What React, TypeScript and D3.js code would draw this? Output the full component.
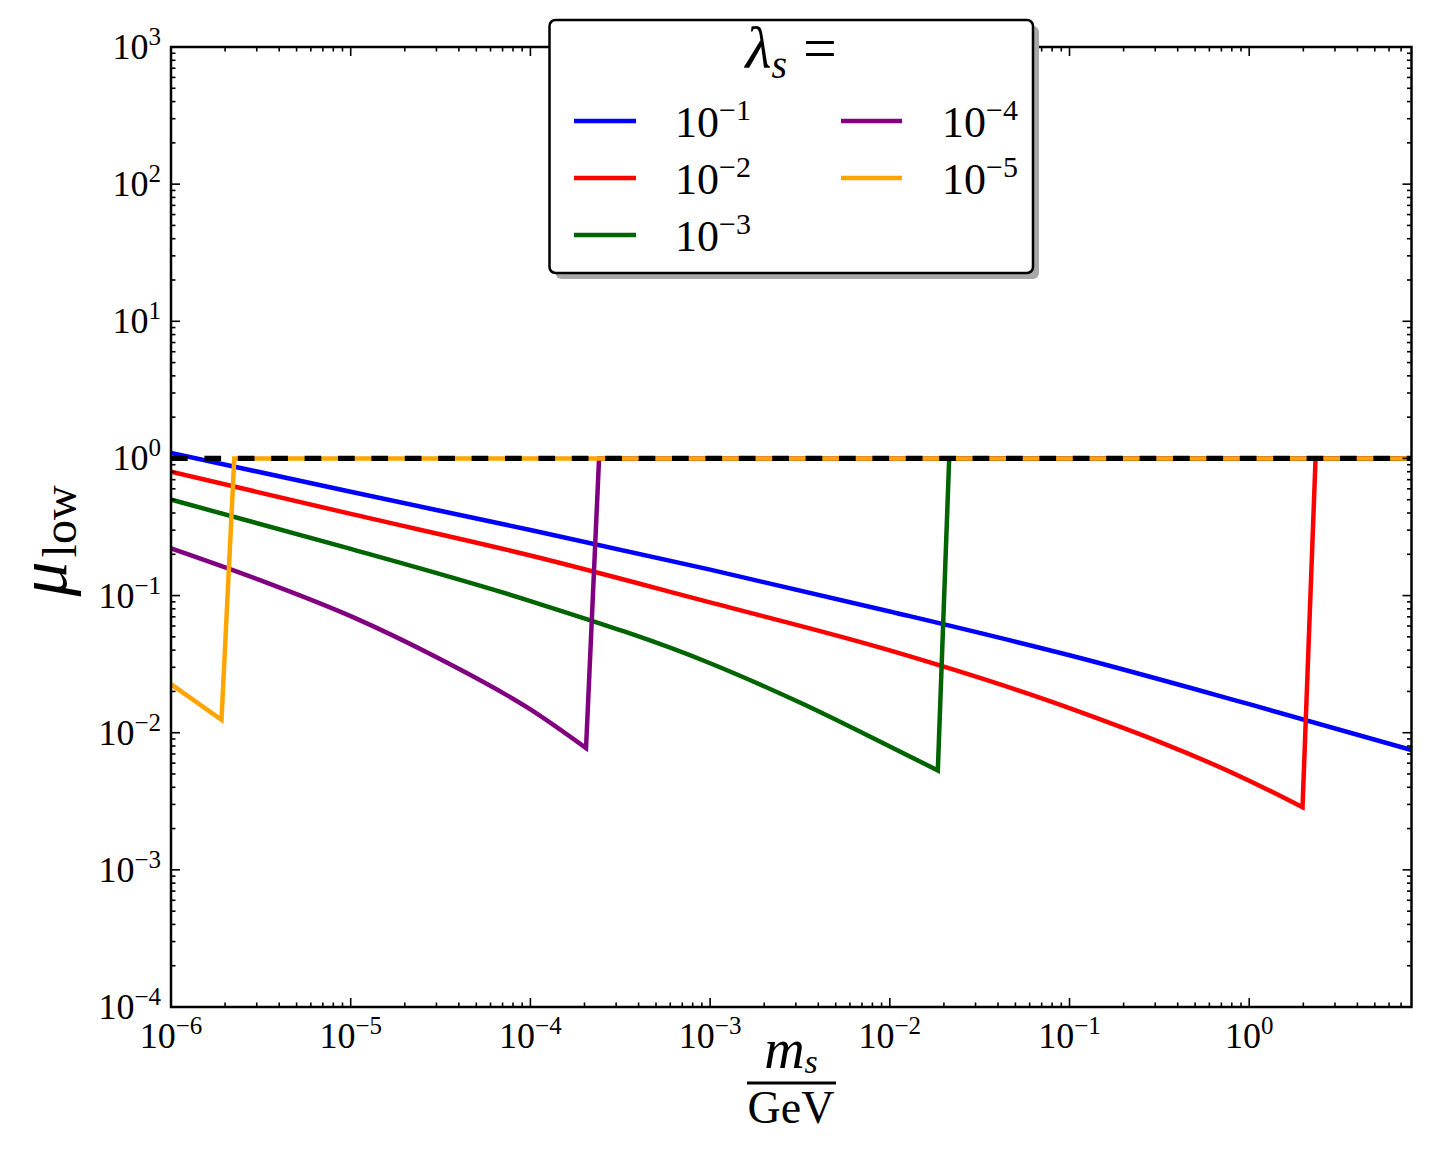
import * as d3 from 'd3';

// lambda_s = 1e-1 ... 1e-5, mass in GeV, mu_low
const massBlue = [1e-6, 1e-5, 1e-4, 1e-3, 1e-2, 1e-1, 1, 8];
const muBlue = [1.096, 0.571, 0.301, 0.1545, 0.0766, 0.0367, 0.01614, 0.00748];

const massRed = [1e-6, 1e-5, 1e-4, 1e-3, 1e-2, 1e-1, 1, 1.98, 2.34, 8];
const muRed = [0.8, 0.394, 0.196, 0.0891, 0.0398, 0.0151, 0.00447, 0.00286, 1, 1];

const massGreen = [1e-6, 1e-5, 1e-4, 1e-3, 3.16e-3, 1e-2, 0.0185, 0.0214, 8];
const muGreen = [0.501, 0.219, 0.0912, 0.0321, 0.0166, 0.00794, 0.00531, 1, 1];

const massPurple = [1e-6, 3.16e-6, 1e-5, 3.16e-5, 1e-4, 2.04e-4, 2.41e-4, 8];
const muPurple = [0.221, 0.129, 0.0708, 0.0343, 0.01479, 0.00773, 1, 1];

const massOrange = [1e-6, 1.91e-6, 2.25e-6, 8];
const muOrange = [0.0226, 0.0124, 1, 1];

const massRef = [1e-6, 8];
const muRef = [1, 1];

const lambdaExps = ['1', '2', '3', '4', '5'];
const seriesColors = ['#0000ff', '#ff0000', '#006400', '#800080', '#ffa500'];

const xExps = [-6, -5, -4, -3, -2, -1, 0];
const yExps = [-4, -3, -2, -1, 0, 1, 2, 3];

const W = 1432;
const H = 1158;
const margin = { left: 171, top: 47, right: 20.5, bottom: 151 };
const FONT = '"Liberation Serif", "DejaVu Serif", serif';

const series = [
  { m: massBlue, mu: muBlue },
  { m: massRed, mu: muRed },
  { m: massGreen, mu: muGreen },
  { m: massPurple, mu: muPurple },
  { m: massOrange, mu: muOrange },
];

const minus = (e: number) => (e < 0 ? '\u2212' + Math.abs(e) : String(e));

export default function App() {
  const x0 = margin.left;
  const x1 = W - margin.right;
  const y0 = margin.top;
  const y1 = H - margin.bottom;

  const x = d3.scaleLog().domain([1e-6, 8]).range([x0, x1]);
  const y = d3.scaleLog().domain([1e-4, 1e3]).range([y1, y0]);

  const smooth = d3
    .line<[number, number]>()
    .x((d) => x(d[0]))
    .y((d) => y(d[1]))
    .curve(d3.curveMonotoneX);
  const straight = d3
    .line<[number, number]>()
    .x((d) => x(d[0]))
    .y((d) => y(d[1]));

  const pairs = (m: number[], mu: number[]) => m.map((v, i) => [v, mu[i]] as [number, number]);

  // smooth descending branch, straight jump up to 1 and flat tail
  const seriesPath = (m: number[], mu: number[]) => {
    const pts = pairs(m, mu);
    let iMin = pts.findIndex((p, i) => i > 0 && p[1] > pts[i - 1][1]) - 1;
    if (iMin < 0) iMin = pts.length - 1;
    const head = smooth(pts.slice(0, iMin + 1)) || '';
    const tail = pts
      .slice(iMin + 1)
      .map((p) => `L${x(p[0])},${y(p[1])}`)
      .join('');
    return head + tail;
  };

  const xMinor: number[] = [];
  xExps.forEach((e) => {
    for (let k = 2; k <= 9; k++) {
      const v = k * Math.pow(10, e);
      if (v < 7.99) xMinor.push(v);
    }
  });
  const yMinor: number[] = [];
  yExps.slice(0, -1).forEach((e) => {
    for (let k = 2; k <= 9; k++) yMinor.push(k * Math.pow(10, e));
  });

  const major = 9;
  const minor = 4.5;
  const tickW = 1.6;

  // legend geometry
  const lg = { x: 549.5, y: 20, w: 483.5, h: 253 };
  const rows = [121, 178, 235];
  const cols = [
    { lx0: 574, lx1: 636, tx: 675 },
    { lx0: 841, lx1: 902, tx: 942 },
  ];

  return (
    <svg
      width={W}
      height={H}
      style={{ position: 'absolute', left: 0, top: 0, background: '#fff' }}
      fontFamily={FONT}
    >
      <defs>
        <clipPath id="plot-clip">
          <rect x={x0} y={y0} width={x1 - x0} height={y1 - y0} />
        </clipPath>
      </defs>

      <g clipPath="url(#plot-clip)">
        {series.map((s, i) => (
          <path
            key={i}
            d={seriesPath(s.m, s.mu)}
            fill="none"
            stroke={seriesColors[i]}
            strokeWidth={4.5}
          />
        ))}
        <path
          d={straight(pairs(massRef, muRef)) || ''}
          fill="none"
          stroke="#000"
          strokeWidth={5.2}
          strokeDasharray="16.7 16.7"
        />
      </g>

      {/* ticks */}
      <g stroke="#000" strokeWidth={tickW}>
        {xExps.map((e) => {
          const px = x(Math.pow(10, e));
          return (
            <g key={'xM' + e}>
              <line x1={px} x2={px} y1={y1} y2={y1 - major} />
              <line x1={px} x2={px} y1={y0} y2={y0 + major} />
            </g>
          );
        })}
        {xMinor.map((v, i) => {
          const px = x(v);
          return (
            <g key={'xm' + i}>
              <line x1={px} x2={px} y1={y1} y2={y1 - minor} />
              <line x1={px} x2={px} y1={y0} y2={y0 + minor} />
            </g>
          );
        })}
        {yExps.map((e) => {
          const py = y(Math.pow(10, e));
          return (
            <g key={'yM' + e}>
              <line x1={x0} x2={x0 + major} y1={py} y2={py} />
              <line x1={x1} x2={x1 - major} y1={py} y2={py} />
            </g>
          );
        })}
        {yMinor.map((v, i) => {
          const py = y(v);
          return (
            <g key={'ym' + i}>
              <line x1={x0} x2={x0 + minor} y1={py} y2={py} />
              <line x1={x1} x2={x1 - minor} y1={py} y2={py} />
            </g>
          );
        })}
      </g>

      <rect x={x0} y={y0} width={x1 - x0} height={y1 - y0} fill="none" stroke="#000" strokeWidth={2.5} />

      {/* tick labels */}
      {xExps.map((e) => (
        <text key={'xl' + e} x={x(Math.pow(10, e))} y={y1 + 41} textAnchor="middle" fontSize={36} fill="#000">
          10
          <tspan fontSize={25} dy={-14}>
            {minus(e)}
          </tspan>
        </text>
      ))}
      {yExps.map((e) => (
        <text key={'yl' + e} x={x0 - 10} y={y(Math.pow(10, e)) + 12} textAnchor="end" fontSize={36} fill="#000">
          10
          <tspan fontSize={25} dy={-14}>
            {minus(e)}
          </tspan>
        </text>
      ))}

      {/* axis labels */}
      <text transform={`translate(66,541) rotate(-90)`} textAnchor="middle" fill="#000">
        <tspan fontSize={70} fontStyle="italic">
          μ
        </tspan>
        <tspan fontSize={48} dy={10} dx={4}>
          low
        </tspan>
      </text>

      <text x={791} y={1068} textAnchor="middle" fill="#000">
        <tspan fontSize={56} fontStyle="italic">
          m
        </tspan>
        <tspan fontSize={34} fontStyle="italic" dy={5}>
          s
        </tspan>
      </text>
      <line x1={747} x2={836} y1={1083} y2={1083} stroke="#000" strokeWidth={3} />
      <text x={791} y={1123} textAnchor="middle" fontSize={46} fill="#000">
        GeV
      </text>

      {/* legend */}
      <rect x={lg.x + 6} y={lg.y + 6} width={lg.w} height={lg.h} rx={6} fill="#a8a8a8" />
      <rect x={lg.x} y={lg.y} width={lg.w} height={lg.h} rx={6} fill="#fff" stroke="#000" strokeWidth={2.5} />
      <text x={lg.x + lg.w / 2} y={68} textAnchor="middle" fill="#000">
        <tspan fontSize={60} fontStyle="italic">
          λ
        </tspan>
        <tspan fontSize={40} fontStyle="italic" dy={10}>
          s
        </tspan>
        <tspan fontSize={60} dy={-10} dx={16}>
          =
        </tspan>
      </text>
      {lambdaExps.map((ex, i) => {
        const c = cols[i < 3 ? 0 : 1];
        const ry = rows[i < 3 ? i : i - 3];
        return (
          <g key={'lg' + i}>
            <line x1={c.lx0} x2={c.lx1} y1={ry} y2={ry} stroke={seriesColors[i]} strokeWidth={4.5} />
            <text x={c.tx} y={ry + 16} fontSize={44} fill="#000">
              10
              <tspan fontSize={30} dy={-17}>
                {'\u2212' + ex}
              </tspan>
            </text>
          </g>
        );
      })}
    </svg>
  );
}
